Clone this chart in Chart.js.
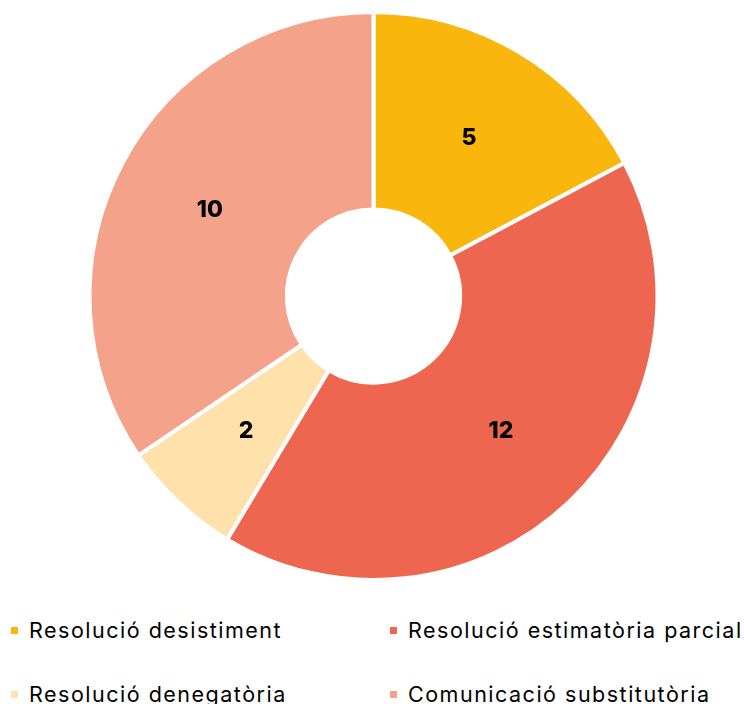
<!DOCTYPE html>
<html lang="ca">
<head>
  <meta charset="UTF-8" />
  <title>Resolucions</title>
  <script src="https://cdn.jsdelivr.net/npm/chart.js"></script>
  <style>
    body {
      margin: 0;
      background: #fff;
      font-family: 'Inter', sans-serif;
      width: 744px;
      height: 704px;
      overflow: hidden;
      position: relative;
    }

    .chart-box {
      position: absolute;
      left: 0;
      top: 0;
      width: 744px;
      height: 592px;
    }

    .legend {
      position: absolute;
      left: 0;
      top: 615px;
      width: 744px;
      display: grid;
      grid-template-columns: 379px 365px;
      row-gap: 34px;
    }

    .legend-item {
      display: flex;
      align-items: center;
      font-size: 21.5px;
      letter-spacing: 1.5px;
      line-height: 30px;
      color: #000;
      white-space: nowrap;
    }

    .legend-item span.box {
      display: inline-block;
      width: 7px;
      height: 7px;
      margin-left: 11px;
      margin-right: 11px;
    }
  </style>
</head>
<body>
  <div class="chart-box"><canvas id="pie"></canvas></div>
  <div class="legend" id="legend"></div>

  <script>
    const categories = [
      'Resolució desistiment',
      'Resolució estimatòria parcial',
      'Resolució denegatòria',
      'Comunicació substitutòria'
    ];
    const values = [5, 12, 2, 10];
    const colors = ['#F9B70E', '#EE664F', '#FFE1AB', '#F5A28B'];

    // numbers drawn in the middle of each slice
    const sliceLabels = {
      id: 'sliceLabels',
      afterDatasetsDraw(chart) {
        const ctx = chart.ctx;
        const meta = chart.getDatasetMeta(0);
        ctx.save();
        ctx.font = '800 23px Inter, sans-serif';
        ctx.fillStyle = '#000';
        ctx.textAlign = 'center';
        ctx.textBaseline = 'middle';
        meta.data.forEach((arc, i) => {
          const p = arc.tooltipPosition();
          ctx.fillText(String(values[i]), p.x, p.y + 1);
        });
        ctx.restore();
      }
    };

    new Chart(document.getElementById('pie'), {
      type: 'doughnut',
      data: {
        labels: categories,
        datasets: [{
          data: values,
          backgroundColor: colors,
          borderColor: '#fff',
          borderWidth: 4,
          hoverBorderWidth: 4,
          hoverOffset: 0
        }]
      },
      options: {
        responsive: true,
        maintainAspectRatio: false,
        animation: false,
        cutout: '30.5%',
        layout: { padding: { top: 10, bottom: 10, left: 3 } },
        plugins: {
          legend: { display: false },
          tooltip: { enabled: false }
        }
      },
      plugins: [sliceLabels]
    });

    const legend = document.getElementById('legend');
    categories.forEach((name, i) => {
      const item = document.createElement('div');
      item.className = 'legend-item';
      item.innerHTML = `<span class="box" style="background:${colors[i]}"></span>${name}`;
      legend.appendChild(item);
    });
  </script>
</body>
</html>
